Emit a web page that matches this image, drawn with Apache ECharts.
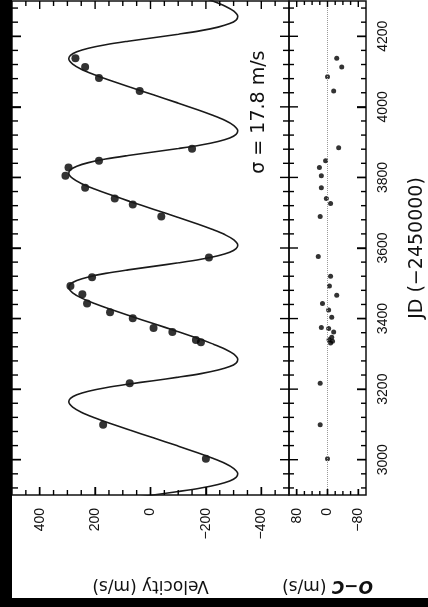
<!DOCTYPE html>
<html>
<head>
<meta charset="utf-8">
<style>
  html, body { margin: 0; padding: 0; background: #fff; }
  #wrap { position: relative; width: 428px; height: 607px; }
  #chart { width: 428px; height: 607px; }
  /* dark edges of the scanned page */
  .strip { position: absolute; background: #000; z-index: 5; }
  #strip-left { left: 0; top: 0; width: 12px; height: 607px; }
  #strip-bottom { left: 0; top: 598px; width: 428px; height: 9px; }
</style>
<script src="https://cdn.jsdelivr.net/npm/echarts@6/dist/echarts.min.js"></script>
</head>
<body>
<div id="wrap">
  <div id="chart"></div>
  <div class="strip" id="strip-left"></div>
  <div class="strip" id="strip-bottom"></div>
</div>
<script>
// Radial velocity curve, drawn as in the (rotated) scan: JD runs upward,
// velocity runs right-to-left, residual panel sits on the right.

// ---- axis ticks ----
const jdMajor = [3000, 3200, 3400, 3600, 3800, 4000, 4200];
const jdMinor = [2920, 2960, 3040, 3080, 3120, 3160, 3240, 3280, 3320, 3360,
  3440, 3480, 3520, 3560, 3640, 3680, 3720, 3760, 3840, 3880, 3920, 3960,
  4040, 4080, 4120, 4160, 4240, 4280];
const velMajor = [-400, -200, 0, 200, 400];
const velMinor = [-450, -350, -300, -250, -150, -100, -50, 50, 100, 150, 250, 300, 350, 450];
const ocMajor = [-80, 0, 80];
const ocMinor = [-60, -40, -20, 20, 40, 60];

// ---- fitted orbit ----
const modelJD = [2880, 2890, 2900, 2910, 2920, 2930, 2940, 2950, 2960, 2975, 2990, 3005, 3020, 3040, 3062,
  3084, 3104, 3119, 3134, 3149, 3164, 3174, 3184, 3194, 3204, 3214, 3224, 3234, 3244, 3254, 3264, 3274, 3284, 3299, 3314, 3329, 3344, 3364, 3386,
  3408, 3428, 3443, 3458, 3473, 3488, 3498, 3508, 3518, 3528, 3538, 3548, 3558, 3568, 3578, 3588, 3598, 3608, 3623, 3638, 3653, 3668, 3688, 3710,
  3732, 3752, 3767, 3782, 3797, 3812, 3822, 3832, 3842, 3852, 3862, 3872, 3882, 3892, 3902, 3912, 3922, 3932, 3947, 3962, 3977, 3992, 4012, 4034,
  4056, 4076, 4091, 4106, 4121, 4136, 4146, 4156, 4166, 4176, 4186, 4196, 4206, 4216, 4226, 4236, 4246, 4256, 4271, 4286, 4301, 4316];
const modelVel = [162, 81, -10, -101, -182, -244, -286, -309, -315, -301, -268, -222, -170, -95, -10,
  75, 150, 202, 248, 281, 295, 289, 266, 224, 162, 81, -10, -101, -182, -244, -286, -309, -315, -301, -268, -222, -170, -95, -10,
  75, 150, 202, 248, 281, 295, 289, 266, 224, 162, 81, -10, -101, -182, -244, -286, -309, -315, -301, -268, -222, -170, -95, -10,
  75, 150, 202, 248, 281, 295, 289, 266, 224, 162, 81, -10, -101, -182, -244, -286, -309, -315, -301, -268, -222, -170, -95, -10,
  75, 150, 202, 248, 281, 295, 289, 266, 224, 162, 81, -10, -101, -182, -244, -286, -309, -315, -301, -268, -222, -170];

// ---- observations ----
const obsJD = [3003, 3099, 3217, 3333, 3339, 3362, 3373, 3401, 3418, 3443, 3469, 3492, 3517, 3573,
  3689, 3723, 3740, 3771, 3805, 3828, 3847, 3881, 4045, 4082, 4113, 4138];
const obsVel = [-200, 171, 75, -182, -164, -79, -11, 64, 146, 229, 246, 289, 211, -211,
  -39, 64, 129, 236, 307, 296, 186, -150, 39, 186, 236, 271];

// ---- residuals ----
const ocJD = [3003, 3099, 3217, 3331, 3336, 3340, 3347, 3362, 3372, 3375, 3404, 3424, 3443, 3466, 3492, 3520, 3576,
  3689, 3726, 3740, 3771, 3805, 3828, 3847, 3884, 4045, 4085, 4113, 4138];
const ocRes = [0, 19, 19, -8, -13, -4, -11, -16, -3, 16, -11, -3, 13, -24, -5, -8, 24,
  19, -8, 3, 16, 16, 21, 5, -29, -16, 0, -37, -24];

// the rms note and where it sits (velocity, JD)
const sigmaText = 'σ = 17.8 m/s';
const sigmaAt = [-392, 3985];

const INK = '#111';
const tickFont = { fontFamily: 'Liberation Sans', fontSize: 14, color: INK };
const titleFont = { fontFamily: 'DejaVu Sans', fontSize: 17, color: INK };
const minus = v => String(v).replace('-', '\u2212');

function valueAxis(gridIndex, position, min, max, inverse, extra) {
  return Object.assign({
    type: 'value', gridIndex, position, min, max, inverse,
    axisLine: { show: false, onZero: false },
    axisTick: { show: false },
    axisLabel: { show: false },
    splitLine: { show: false },
  }, extra || {});
}

// inward tick marks on all four sides of a panel, placed through the axes
function tickSeries(xAxisIndex, yAxisIndex, xMaj, xMin, yMaj, yMin, lens, midX, midY) {
  const items = [];
  xMaj.forEach(v => items.push({ dim: 0, v, len: lens[0] }));
  xMin.forEach(v => items.push({ dim: 0, v, len: lens[1] }));
  yMaj.forEach(v => items.push({ dim: 1, v, len: lens[2] }));
  yMin.forEach(v => items.push({ dim: 1, v, len: lens[3] }));
  const w = 1.4;
  return {
    type: 'custom', xAxisIndex, yAxisIndex, silent: true, z: 5,
    data: items.map(it => (it.dim === 0 ? [it.v, midY] : [midX, it.v])),
    renderItem(params, api) {
      const it = items[params.dataIndex];
      const cs = params.coordSys;
      const p = api.coord([api.value(0), api.value(1)]);
      const style = { fill: '#000' };
      if (it.dim === 0) {
        return { type: 'group', children: [
          { type: 'rect', shape: { x: p[0] - w / 2, y: cs.y, width: w, height: it.len }, style },
          { type: 'rect', shape: { x: p[0] - w / 2, y: cs.y + cs.height - it.len, width: w, height: it.len }, style },
        ] };
      }
      return { type: 'group', children: [
        { type: 'rect', shape: { x: cs.x, y: p[1] - w / 2, width: it.len, height: w }, style },
        { type: 'rect', shape: { x: cs.x + cs.width - it.len, y: p[1] - w / 2, width: it.len, height: w }, style },
      ] };
    },
  };
}

const chart = echarts.init(document.getElementById('chart'));
chart.setOption({
  animation: false,
  backgroundColor: '#fff',
  grid: [
    { left: 12, top: 1, width: 277, height: 494, show: true, borderColor: INK, borderWidth: 1.5 },
    { left: 289, top: 1, width: 78, height: 494, show: true, borderColor: INK, borderWidth: 1.5 },
  ],
  xAxis: [
    valueAxis(0, 'bottom', -500, 500, true, {
      axisTick: { show: true, inside: true, length: 8, customValues: velMajor, lineStyle: { color: '#000', width: 1.4 } },
      axisLabel: Object.assign({ show: true, customValues: velMajor, rotate: 90, margin: 13, formatter: minus }, tickFont),
      name: 'Velocity (m/s)', nameLocation: 'middle', nameGap: 82, nameRotate: 180,
      nameTextStyle: titleFont,
    }),
    valueAxis(1, 'bottom', -100, 100, true, {
      axisTick: { show: true, inside: true, length: 6, customValues: ocMajor, lineStyle: { color: '#000', width: 1.4 } },
      axisLabel: Object.assign({ show: true, customValues: ocMajor, rotate: 90, margin: 13, formatter: minus }, tickFont),
      name: '{i|O\u2212C} (m/s)', nameLocation: 'middle', nameGap: 82, nameRotate: 180,
      nameTextStyle: Object.assign({ rich: { i: { fontStyle: 'italic', fontWeight: 'bold', fontFamily: 'DejaVu Sans', fontSize: 17, color: INK } } }, titleFont),
    }),
  ],
  yAxis: [
    valueAxis(0, 'left', 2900, 4300, false, {
      axisTick: { show: true, inside: true, length: 9, customValues: jdMajor, lineStyle: { color: '#000', width: 1.4 } },
    }),
    valueAxis(1, 'right', 2900, 4300, false, {
      axisTick: { show: true, inside: true, length: 9, customValues: jdMajor, lineStyle: { color: '#000', width: 1.4 } },
      axisLabel: Object.assign({ show: true, customValues: jdMajor, rotate: 90, margin: 10, formatter: v => String(v) }, tickFont),
      name: 'JD (\u22122450000)', nameLocation: 'middle', nameGap: 42, nameRotate: 90,
      nameTextStyle: Object.assign({}, titleFont, { fontSize: 19 }),
    }),
  ],
  series: [
    tickSeries(0, 0, velMajor, velMinor, jdMajor, jdMinor, [8, 5, 9, 6], 0, 3600),
    tickSeries(1, 1, ocMajor, ocMinor, jdMajor, jdMinor, [6, 4, 9, 5], 0, 3600),
    {
      type: 'line',
      xAxisIndex: 0, yAxisIndex: 0,
      data: modelJD.map((t, i) => [modelVel[i], t]),
      smooth: 0.35,
      symbol: 'none',
      lineStyle: { color: '#1a1a1a', width: 1.6 },
      silent: true,
    },
    {
      type: 'scatter',
      xAxisIndex: 0, yAxisIndex: 0,
      data: obsJD.map((t, i) => [obsVel[i], t]),
      symbolSize: 8,
      itemStyle: { color: '#000' },
      silent: true,
    },
    {
      type: 'scatter',
      xAxisIndex: 1, yAxisIndex: 1,
      data: ocJD.map((t, i) => [ocRes[i], t]),
      symbolSize: 5,
      itemStyle: { color: '#000' },
      silent: true,
      markLine: {
        silent: true,
        symbol: 'none',
        label: { show: false },
        lineStyle: { color: '#999', type: 'dotted', width: 1 },
        data: [{ xAxis: 0 }],
      },
    },
    {
      // rms note, rotated with the rest of the figure
      type: 'custom',
      xAxisIndex: 0, yAxisIndex: 0,
      silent: true, z: 6,
      data: [sigmaAt],
      renderItem(params, api) {
        const p = api.coord([api.value(0), api.value(1)]);
        return {
          type: 'text', x: p[0], y: p[1], rotation: Math.PI / 2,
          style: { text: sigmaText, fill: INK, font: '19px "DejaVu Sans"', align: 'center', verticalAlign: 'middle' },
        };
      },
    },
  ],
});
</script>
</body>
</html>
